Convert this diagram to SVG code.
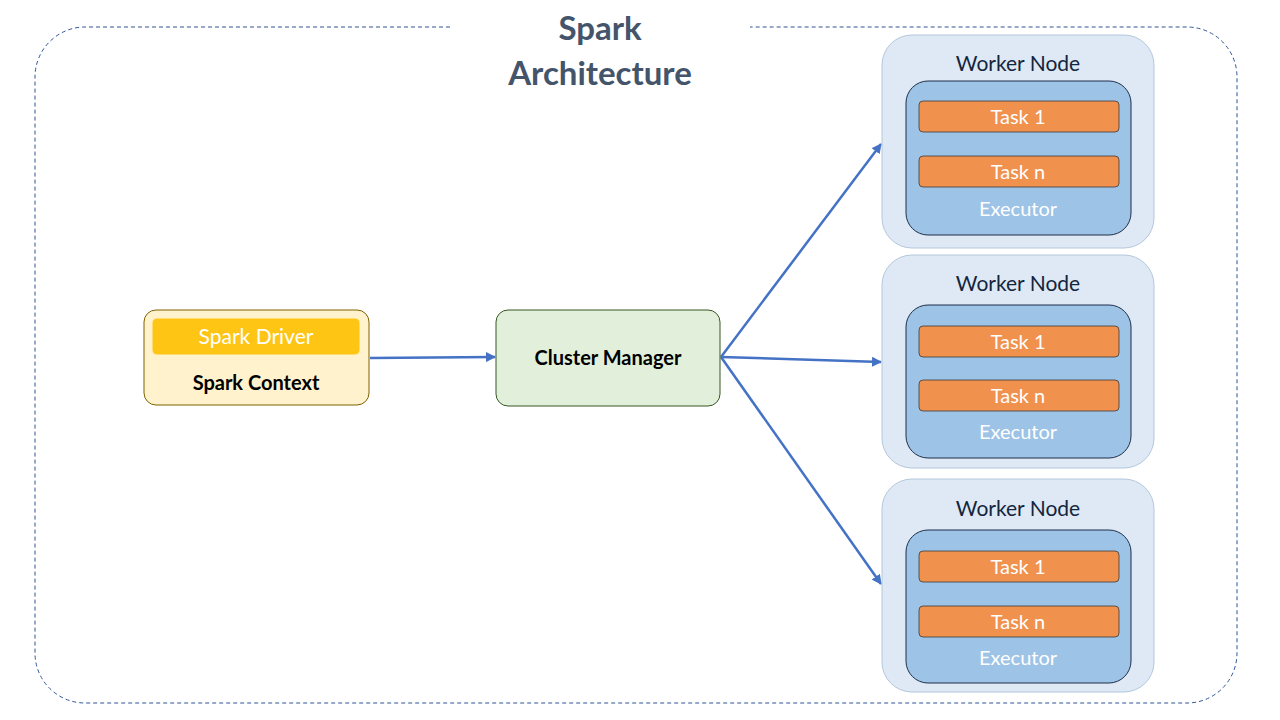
<svg xmlns="http://www.w3.org/2000/svg" width="1280" height="720" viewBox="0 0 1280 720">
<style>
text{font-family:Lato,"Open Sans","Liberation Sans",sans-serif;text-anchor:middle}
.wn{fill:#dee9f5;stroke:#b4c7dc;stroke-width:1}
.ex{fill:#9dc3e6;stroke:#1f2f4a;stroke-width:1}
.tk{fill:#f0914e;stroke:#3b3b3b;stroke-width:0.8}
.wt{font-size:21px;fill:#14253e}
.tt{font-size:20px;fill:#ffffff}
.con{stroke:#4472c4;stroke-width:2.5;fill:none;marker-end:url(#ah)}
</style>
<defs><marker id="ah" viewBox="0 0 10 10" refX="9" refY="5" markerWidth="4" markerHeight="4" orient="auto"><path d="M0,0L10,5L0,10z" fill="#4472c4"/></marker></defs>
<rect width="1280" height="720" fill="#fff"/>
<path d="M450,27 H85 A50,50 0 0 0 35,77 V653 A50,50 0 0 0 85,703 H1187 A50,50 0 0 0 1237,653 V77 A50,50 0 0 0 1187,27 H750" fill="none" stroke="#2f5597" stroke-width="1" stroke-dasharray="4,3"/>
<text x="600" y="40" font-size="33" font-weight="bold" fill="#44546a">Spark</text>
<text x="600" y="85" font-size="33" font-weight="bold" fill="#44546a">Architecture</text>
<g id="connectors">
<path class="con" d="M370,358 L495,357"/>
<path class="con" d="M721,357 L881,144"/>
<path class="con" d="M721,357 L881,362"/>
<path class="con" d="M721,357 L881,584"/>
</g>
<g id="driver">
<rect x="144" y="310" width="225" height="95" rx="12" fill="#fff2cc" stroke="#7f6000"/>
<rect x="152" y="318" width="208" height="37" rx="5" fill="#ffc514" stroke="#fff3c6"/>
<text x="256" y="344" font-size="21" fill="#fff">Spark Driver</text>
<text x="256" y="390" font-size="20" font-weight="bold" fill="#000">Spark Context</text>
</g>
<g id="cluster">
<rect x="496" y="310" width="224" height="96" rx="12" fill="#e2efda" stroke="#375623"/>
<text x="608" y="365" font-size="20" font-weight="bold" fill="#000">Cluster Manager</text>
</g>
<g id="worker1">
<rect class="wn" x="882" y="35" width="272" height="213" rx="30"/>
<text class="wt" x="1018" y="71">Worker Node</text>
<rect class="ex" x="906" y="81" width="225" height="154" rx="22"/>
<rect class="tk" x="919" y="101" width="200" height="31" rx="4"/>
<text class="tt" x="1018" y="124">Task 1</text>
<rect class="tk" x="919" y="156" width="200" height="31" rx="4"/>
<text class="tt" x="1018" y="179">Task n</text>
<text class="tt" x="1018" y="216">Executor</text>
</g>
<g id="worker2">
<rect class="wn" x="882" y="255" width="272" height="213" rx="30"/>
<text class="wt" x="1018" y="291">Worker Node</text>
<rect class="ex" x="906" y="305" width="225" height="153" rx="22"/>
<rect class="tk" x="919" y="326" width="200" height="31" rx="4"/>
<text class="tt" x="1018" y="349">Task 1</text>
<rect class="tk" x="919" y="380" width="200" height="31" rx="4"/>
<text class="tt" x="1018" y="403">Task n</text>
<text class="tt" x="1018" y="439">Executor</text>
</g>
<g id="worker3">
<rect class="wn" x="882" y="479" width="272" height="213" rx="30"/>
<text class="wt" x="1018" y="516">Worker Node</text>
<rect class="ex" x="906" y="530" width="225" height="153" rx="22"/>
<rect class="tk" x="919" y="551" width="200" height="31" rx="4"/>
<text class="tt" x="1018" y="574">Task 1</text>
<rect class="tk" x="919" y="606" width="200" height="31" rx="4"/>
<text class="tt" x="1018" y="629">Task n</text>
<text class="tt" x="1018" y="665">Executor</text>
</g>
</svg>
